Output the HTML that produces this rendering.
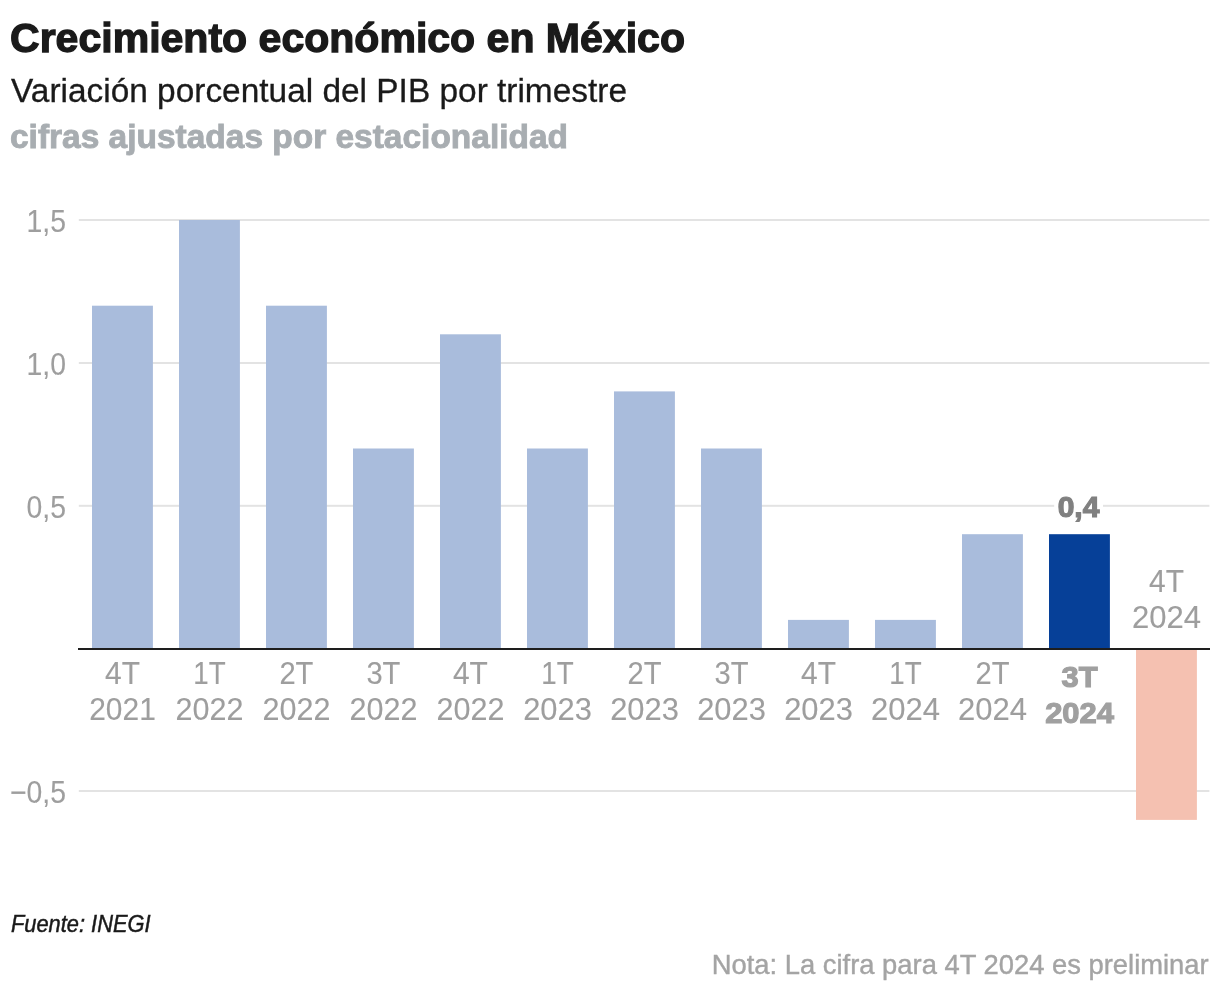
<!DOCTYPE html>
<html lang="es"><head><meta charset="utf-8"><title>Crecimiento económico en México</title>
<style>
html,body{margin:0;padding:0;background:#fff;}
body{width:1220px;height:994px;overflow:hidden;font-family:"Liberation Sans",sans-serif;}
svg{display:block;}
text{font-family:"Liberation Sans",sans-serif;}
.t{fill:#9e9e9e;stroke:#9e9e9e;stroke-width:0.12px;font-size:31.5px;}
.tb{fill:#a0a0a0;stroke:#a0a0a0;stroke-width:1.2px;font-size:30px;font-weight:bold;}
.v{fill:#808080;font-size:30px;font-weight:bold;stroke:#808080;stroke-width:1.2px;}
</style></head><body>
<svg width="1220" height="994" viewBox="0 0 1220 994">
<rect width="1220" height="994" fill="#fff"/>
<text x="10" y="52.3" font-size="41" font-weight="bold" fill="#1a1a1a" stroke="#1a1a1a" stroke-width="1.3" textLength="675" lengthAdjust="spacingAndGlyphs">Crecimiento económico en México</text>
<text x="11" y="101.5" font-size="33" fill="#1a1a1a" stroke="#1a1a1a" stroke-width="0.3" textLength="616" lengthAdjust="spacingAndGlyphs">Variación porcentual del PIB por trimestre</text>
<text x="10" y="147.8" font-size="33" font-weight="bold" fill="#a8adb1" stroke="#a8adb1" stroke-width="0.9" textLength="558" lengthAdjust="spacingAndGlyphs">cifras ajustadas por estacionalidad</text>
<rect x="78.8" y="219.0" width="1130.6" height="2" fill="#e3e3e3"/>
<rect x="78.8" y="362.0" width="1130.6" height="2" fill="#e3e3e3"/>
<rect x="78.8" y="504.8" width="1130.6" height="2" fill="#e3e3e3"/>
<rect x="78.8" y="790.0" width="1130.6" height="2" fill="#e3e3e3"/>
<text class="t" transform="translate(66.0 232.1) scale(0.9 1)" text-anchor="end">1,5</text>
<text class="t" transform="translate(66.0 375.1) scale(0.9 1)" text-anchor="end">1,0</text>
<text class="t" transform="translate(66.0 517.9) scale(0.9 1)" text-anchor="end">0,5</text>
<text class="t" transform="translate(66.0 803.1) scale(0.9 1)" text-anchor="end">−0,5</text>
<rect x="92.0" y="305.7" width="60.9" height="343.3" fill="#a9bcdc"/>
<rect x="179.0" y="220.0" width="60.9" height="429.0" fill="#a9bcdc"/>
<rect x="266.0" y="305.7" width="60.9" height="343.3" fill="#a9bcdc"/>
<rect x="353.0" y="448.5" width="60.9" height="200.5" fill="#a9bcdc"/>
<rect x="440.0" y="334.3" width="60.9" height="314.7" fill="#a9bcdc"/>
<rect x="527.0" y="448.5" width="60.9" height="200.5" fill="#a9bcdc"/>
<rect x="614.0" y="391.4" width="60.9" height="257.6" fill="#a9bcdc"/>
<rect x="701.0" y="448.5" width="60.9" height="200.5" fill="#a9bcdc"/>
<rect x="788.0" y="619.9" width="60.9" height="29.1" fill="#a9bcdc"/>
<rect x="875.0" y="619.9" width="60.9" height="29.1" fill="#a9bcdc"/>
<rect x="962.0" y="534.2" width="60.9" height="114.8" fill="#a9bcdc"/>
<rect x="1049.0" y="534.2" width="60.9" height="114.8" fill="#064098"/>
<rect x="1136.0" y="649" width="60.9" height="170.9" fill="#f5c1b1"/>
<rect x="78" y="648" width="1132" height="2" fill="#1e1e1e"/>
<text class="t" transform="translate(122.5 683.6) scale(0.95 1)" text-anchor="middle">4T</text>
<text class="t" transform="translate(122.5 719.6) scale(0.95 1)" text-anchor="middle">2021</text>
<text class="t" transform="translate(209.4 683.6) scale(0.88 1)" text-anchor="middle">1T</text>
<text class="t" transform="translate(209.4 719.6) scale(0.97 1)" text-anchor="middle">2022</text>
<text class="t" transform="translate(296.4 683.6) scale(0.925 1)" text-anchor="middle">2T</text>
<text class="t" transform="translate(296.4 719.6) scale(0.97 1)" text-anchor="middle">2022</text>
<text class="t" transform="translate(383.4 683.6) scale(0.925 1)" text-anchor="middle">3T</text>
<text class="t" transform="translate(383.4 719.6) scale(0.97 1)" text-anchor="middle">2022</text>
<text class="t" transform="translate(470.4 683.6) scale(0.95 1)" text-anchor="middle">4T</text>
<text class="t" transform="translate(470.4 719.6) scale(0.97 1)" text-anchor="middle">2022</text>
<text class="t" transform="translate(557.5 683.6) scale(0.88 1)" text-anchor="middle">1T</text>
<text class="t" transform="translate(557.5 719.6) scale(0.98 1)" text-anchor="middle">2023</text>
<text class="t" transform="translate(644.5 683.6) scale(0.925 1)" text-anchor="middle">2T</text>
<text class="t" transform="translate(644.5 719.6) scale(0.98 1)" text-anchor="middle">2023</text>
<text class="t" transform="translate(731.5 683.6) scale(0.925 1)" text-anchor="middle">3T</text>
<text class="t" transform="translate(731.5 719.6) scale(0.98 1)" text-anchor="middle">2023</text>
<text class="t" transform="translate(818.5 683.6) scale(0.95 1)" text-anchor="middle">4T</text>
<text class="t" transform="translate(818.5 719.6) scale(0.98 1)" text-anchor="middle">2023</text>
<text class="t" transform="translate(905.5 683.6) scale(0.88 1)" text-anchor="middle">1T</text>
<text class="t" transform="translate(905.5 719.6) scale(0.985 1)" text-anchor="middle">2024</text>
<text class="t" transform="translate(992.5 683.6) scale(0.925 1)" text-anchor="middle">2T</text>
<text class="t" transform="translate(992.5 719.6) scale(0.985 1)" text-anchor="middle">2024</text>
<text class="tb" transform="translate(1079.5 687.3) scale(1.03 1)" text-anchor="middle">3T</text>
<text class="tb" transform="translate(1079.5 723.0) scale(1.03 1)" text-anchor="middle">2024</text>
<text class="t" transform="translate(1166.5 591.7) scale(0.95 1)" text-anchor="middle">4T</text>
<text class="t" transform="translate(1166.5 627.9) scale(0.985 1)" text-anchor="middle">2024</text>
<rect x="1054.2" y="503" width="48.8" height="6" fill="#fff"/>
<text class="v" transform="translate(1078.5 517.3) scale(1.0 1)" text-anchor="middle">0,4</text>
<text x="11" y="931.9" font-size="24" font-style="italic" fill="#1a1a1a" stroke="#1a1a1a" stroke-width="0.5" textLength="139.5" lengthAdjust="spacingAndGlyphs">Fuente: INEGI</text>
<text x="1208.7" y="973.5" font-size="27.5" fill="#a4a4a4" stroke="#a4a4a4" stroke-width="0.4" text-anchor="end" textLength="497" lengthAdjust="spacingAndGlyphs">Nota: La cifra para 4T 2024 es preliminar</text>
</svg>
</body></html>
